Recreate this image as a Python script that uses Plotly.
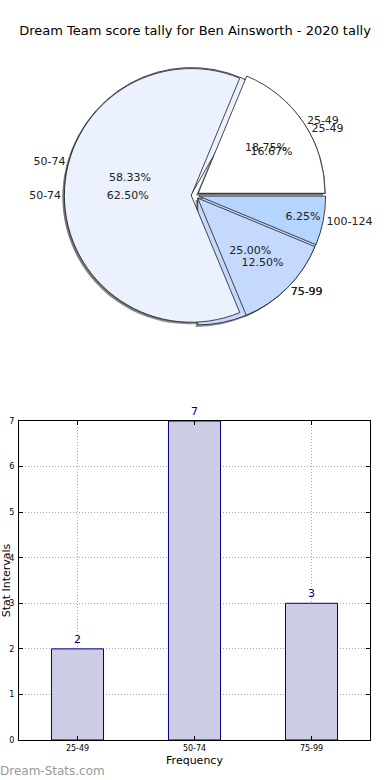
import plotly.graph_objects as go

# ---- data ----
title_text = "Dream Team score tally for Ben Ainsworth - 2020 tally"
pie_a_labels = ["25-49", "50-74", "75-99", "100-124"]
pie_a_values = [3, 10, 2, 1]
pie_b_labels = ["25-49", "50-74", "75-99"]
pie_b_values = [2, 7, 3]
slice_colors = {"25-49": "#ffffff", "50-74": "#ebf1fe", "75-99": "#c5d9ff", "100-124": "#b3d5ff"}

bar_categories = ["25-49", "50-74", "75-99"]
bar_values = [2, 7, 3]
y_ticks = [0, 1, 2, 3, 4, 5, 6, 7]

FONT = "DejaVu Sans"
W, H = 390, 780

# pie placement (paper fractions)
pie_y = [0.582, 0.917]
pie_x = [0.0, 0.995]
dx, dy = 2 / W, 2 / H
pull = 0.03


def start_rotation(values):
    # first wedge starts at 3 o'clock and runs counter-clockwise (plotly measures clockwise from 12)
    return 90 - 360 * values[0] / sum(values)


fig = go.Figure()


def pie_trace(labels, values, colors, domain, textpos="inside",
              template=None, line=0.8, opacity=1.0):
    return go.Pie(
        labels=labels, values=values, sort=False, direction="counterclockwise",
        rotation=start_rotation(values), pull=[pull] * len(values),
        marker=dict(colors=colors, line=dict(color="#1a1a1a" if line else "rgba(0,0,0,0)", width=line)),
        domain=dict(x=domain[0], y=domain[1]),
        textinfo="none" if template is None else None,
        texttemplate=template, textposition=textpos,
        insidetextorientation="horizontal",
        textfont=dict(family=FONT, size=11, color="#222222"),
        showlegend=False, hoverinfo="skip", opacity=opacity, automargin=False,
    )


shadow_dom = ([pie_x[0], pie_x[1] - dx], [pie_y[0] - dy, pie_y[1] - dy])
main_dom = ([pie_x[0] + dx, pie_x[1]], pie_y)
clear = lambda n: ["rgba(0,0,0,0)"] * n

# shadows
fig.add_trace(pie_trace(pie_b_labels, pie_b_values, ["#666666"] * 3, shadow_dom, line=0, opacity=0.7))
fig.add_trace(pie_trace(pie_a_labels, pie_a_values, ["#666666"] * 4, shadow_dom, line=0, opacity=0.7))
# wedges
fig.add_trace(pie_trace(pie_b_labels, pie_b_values, [slice_colors[l] for l in pie_b_labels], main_dom))
fig.add_trace(pie_trace(pie_a_labels, pie_a_values, [slice_colors[l] for l in pie_a_labels], main_dom))
# texts on top
fig.add_trace(pie_trace(pie_b_labels, pie_b_values, clear(3), main_dom, template="%{percent:.2%}", textpos="inside", line=0))
fig.add_trace(pie_trace(pie_a_labels, pie_a_values, clear(4), main_dom, template="%{percent:.2%}", textpos="inside", line=0))
fig.add_trace(pie_trace(pie_b_labels, pie_b_values, clear(3), main_dom, template="%{label}", textpos="outside", line=0))
fig.add_trace(pie_trace(pie_a_labels, pie_a_values, clear(4), main_dom, template="%{label}", textpos="outside", line=0))

# bar chart
fig.add_trace(go.Bar(
    x=bar_categories, y=bar_values, width=0.445,
    marker=dict(color="#ccccE4", line=dict(color="#000080", width=1)),
    text=[str(v) for v in bar_values], textposition="outside",
    textfont=dict(family=FONT, size=11, color="#000080"), cliponaxis=False,
    xaxis="x", yaxis="y", showlegend=False, hoverinfo="skip",
))

axis_common = dict(
    showline=True, linecolor="black", linewidth=1, mirror="ticks",
    ticks="inside", ticklen=4, tickcolor="black", automargin=False,
    showgrid=True, gridcolor="#a8a8a8", griddash="1px,2px", gridwidth=1,
    tickfont=dict(family=FONT, size=8, color="black"), zeroline=False,
)

fig.update_layout(
    width=W, height=H, margin=dict(l=0, r=0, t=0, b=0, autoexpand=False),
    paper_bgcolor="white", plot_bgcolor="white",
    font=dict(family=FONT, color="black"),
    title=dict(text=title_text, x=0.5, xanchor="center", y=1 - 30 / H, yanchor="middle",
               font=dict(family=FONT, size=13, color="black")),
    xaxis=dict(domain=[19 / W, 370 / W], range=[-0.5, 2.5], anchor="y",
               title=dict(text="Frequency", font=dict(family=FONT, size=11), standoff=4),
               **axis_common),
    yaxis=dict(domain=[1 - 740 / H, 1 - 421 / H], range=[0, 7], anchor="x",
               tickvals=y_ticks, ticklabelstandoff=2,
               title=dict(text="Stat Intervals", font=dict(family=FONT, size=11), standoff=0),
               **axis_common),
    annotations=[dict(text="Dream-Stats.com", x=-0.005, y=1 - 771 / H, xref="paper", yref="paper",
                      xanchor="left", yanchor="middle", showarrow=False,
                      font=dict(family=FONT, size=12, color="#999999"))],
)

fig.write_html("out.html", config={"displayModeBar": False},
               post_script="document.body.style.margin='0';")
